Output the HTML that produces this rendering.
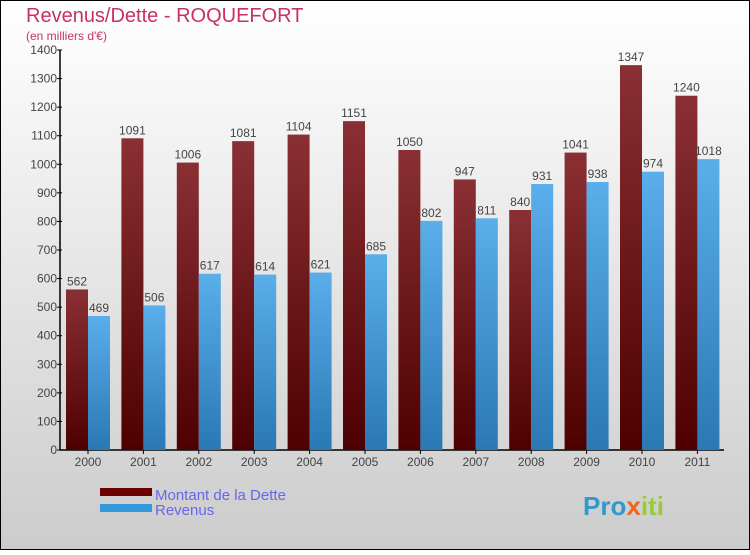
<!DOCTYPE html>
<html><head><meta charset="utf-8"><style>
body{margin:0}
#c{width:750px;height:550px;position:relative;font-family:"Liberation Sans",sans-serif}
</style></head><body>
<div id="c">
<svg id="s" width="750" height="550" xmlns="http://www.w3.org/2000/svg">
<defs>
<linearGradient id="bg" x1="0" y1="0" x2="0" y2="1"><stop offset="0" stop-color="#ffffff"/><stop offset="1" stop-color="#cccccc"/></linearGradient>
<linearGradient id="gd" x1="0" y1="0" x2="0" y2="1"><stop offset="0" stop-color="#8a3034"/><stop offset="1" stop-color="#4e0000"/></linearGradient>
<linearGradient id="gr" x1="0" y1="0" x2="0" y2="1"><stop offset="0" stop-color="#5aaeea"/><stop offset="1" stop-color="#2a78b4"/></linearGradient>
</defs>
<rect x="0.5" y="0.5" width="749" height="549" fill="url(#bg)" stroke="#000"/>
<text x="26" y="22" font-size="20" fill="#c8306a">Revenus/Dette - ROQUEFORT</text>
<text x="26" y="40" font-size="12" fill="#c8306a">(en milliers d'€)</text>
<g id="plot"></g>
<rect x="100" y="488" width="52" height="8" fill="#6a0000"/>
<rect x="100" y="504" width="52" height="8" fill="#3399dd"/>
<text x="155" y="500" font-size="15" fill="#6666ee">Montant de la Dette</text>
<text x="155" y="515" font-size="15" fill="#6666ee">Revenus</text>
<text x="583" y="515" font-size="26" font-weight="bold" fill="#3399cc">Pro<tspan fill="#ee6622">x</tspan><tspan fill="#99cc33">iti</tspan></text>
</svg>
</div>
<script>
const years=["2000","2001","2002","2003","2004","2005","2006","2007","2008","2009","2010","2011"];
const dette=[562,1091,1006,1081,1104,1151,1050,947,840,1041,1347,1240];
const revenus=[469,506,617,614,621,685,802,811,931,938,974,1018];
const yTicks=[0,100,200,300,400,500,600,700,800,900,1000,1100,1200,1300,1400];
const NS="http://www.w3.org/2000/svg";
const g=document.getElementById('plot');
const X0=60,Y0=450,H=400,YMAX=1400,STEP=55.4,C0=88;
const y=v=>Y0-v/YMAX*H;
const xc=i=>C0+i*STEP;
function mk(t,a){const e=document.createElementNS(NS,t);for(const k in a)e.setAttribute(k,a[k]);g.appendChild(e);return e;}
let ax=mk('line',{x1:X0,y1:y(YMAX),x2:X0,y2:Y0,stroke:'#000','stroke-width':1.5});

let bx=mk('line',{x1:X0,y1:Y0,x2:724,y2:Y0,stroke:'#000','stroke-width':1.5});

yTicks.forEach(v=>{
 mk('line',{x1:X0-3,y1:y(v),x2:X0+2,y2:y(v),stroke:'#000'});
 const t=mk('text',{x:X0-3,y:y(v)+4,'font-size':12,'text-anchor':'end',fill:'#444'});t.textContent=v;
 
});
years.forEach((yr,i)=>{
 const c=xc(i);
 const t=mk('text',{x:c,y:466,'font-size':12,'text-anchor':'middle',fill:'#444'});t.textContent=yr;
 
 mk('line',{x1:c,y1:Y0,x2:c,y2:Y0+4,stroke:'#000'});
 const b1=mk('rect',{x:c-22,y:y(dette[i]),width:22,height:Y0-y(dette[i]),fill:'url(#gd)'});
 
 const b2=mk('rect',{x:c,y:y(revenus[i]),width:22,height:Y0-y(revenus[i]),fill:'url(#gr)'});
 
 const l1=mk('text',{x:c-11,y:y(dette[i])-4,'font-size':12,'text-anchor':'middle',fill:'#444'});l1.textContent=dette[i];
 
 const l2=mk('text',{x:c+11,y:y(revenus[i])-4,'font-size':12,'text-anchor':'middle',fill:'#444'});l2.textContent=revenus[i];
 
});
</script>
</body></html>
